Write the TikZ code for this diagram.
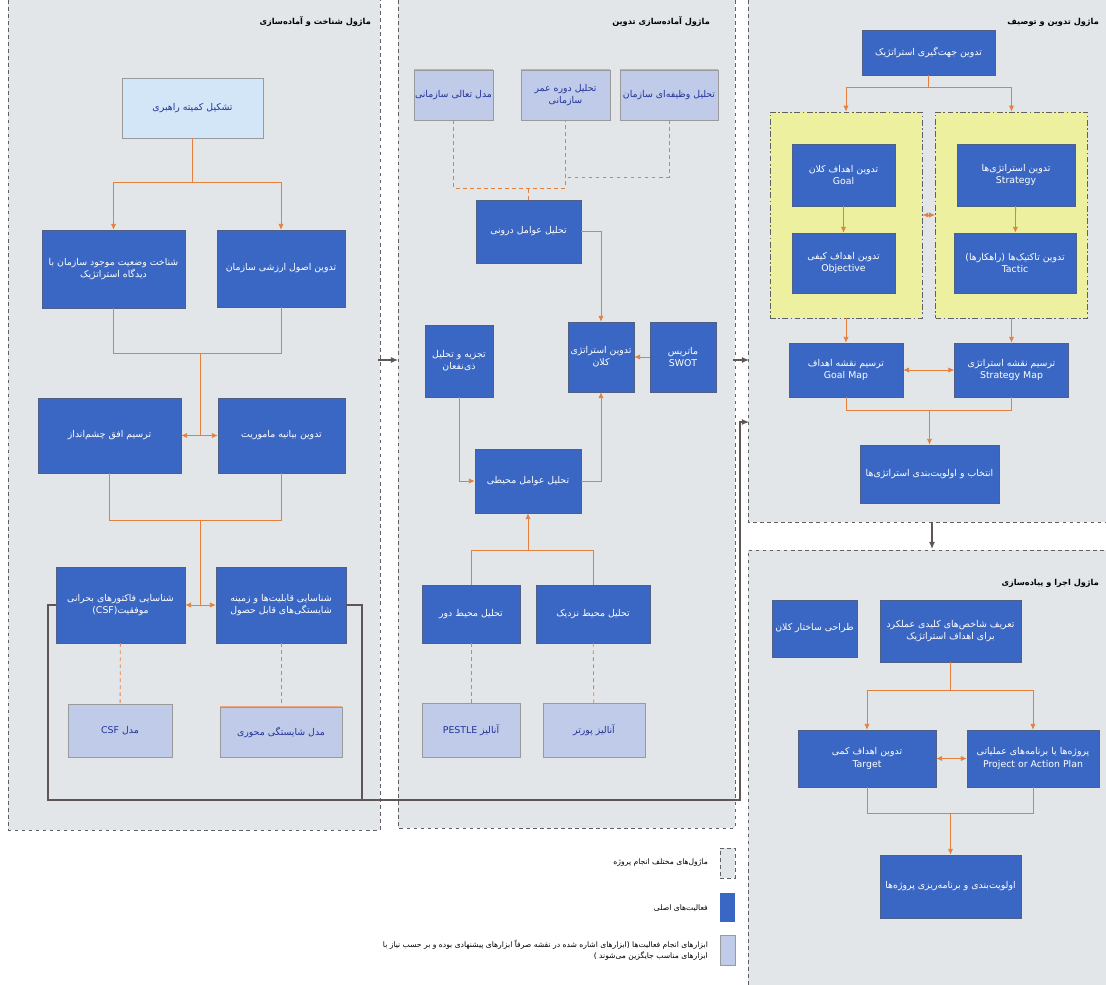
\documentclass[tikz,border=0pt]{standalone}
\usepackage{fontspec}
\setmainfont{DejaVu Sans}
\newfontfamily\farsi[Script=Arabic]{DejaVu Sans}
\TeXXeTstate=1
\newcommand{\fatext}[1]{{\farsi\beginR #1\endR}}
\usetikzlibrary{arrows.meta}
\definecolor{panelgray}{HTML}{E2E6E9}
\definecolor{rimgray}{HTML}{5F6166}
\definecolor{actblue}{HTML}{3A67C3}
\definecolor{actedge}{HTML}{4F5F86}
\definecolor{toolblue}{HTML}{BFCBE8}
\definecolor{tooledge}{HTML}{9A9A9A}
\definecolor{tooltext}{HTML}{22339A}
\definecolor{linkorange}{HTML}{E5803C}
\definecolor{flowgray}{HTML}{5E5656}
\definecolor{groupyellow}{HTML}{EDF09E}
\definecolor{headblue}{HTML}{D2E6F8}

\begin{document}
\begin{tikzpicture}[x=0.03cm, y=-0.03cm,
  every node/.style={font=\fontsize{8}{10.5}\selectfont},
  boxsize/.style 2 args={minimum width=#1*0.03cm, minimum height=#2*0.03cm},
  act/.style={draw=actedge, fill=actblue, text=white, align=center, inner sep=1pt},
  tool/.style={draw=tooledge, fill=toolblue, text=tooltext, align=center, inner sep=1pt},
  head/.style={draw=tooledge, fill=headblue, text=tooltext, align=center, inner sep=1pt},
  group/.style={draw=rimgray, fill=groupyellow, line width=0.8pt,
    dash pattern=on 5pt off 2pt on 1.5pt off 2pt},
  title/.style={anchor=east, font=\fontsize{7}{9}\selectfont\bfseries},
  keytext/.style={anchor=east, align=right, font=\fontsize{6.5}{9}\selectfont},
  rim/.style={draw=rimgray, dashed, line width=0.8pt},
  link/.style={draw=linkorange, line width=0.7pt},
  arr/.style={link, -{Latex[length=5pt,width=4.5pt]}},
  twoway/.style={link, {Latex[length=5pt,width=4.5pt]}-{Latex[length=5pt,width=4.5pt]}},
  toollink/.style={link, dashed},
  flow/.style={draw=flowgray, line width=0.9pt},
  flowarr/.style={flow, -{Latex[length=6pt,width=5pt]}},
  stripe/.style={draw=linkorange!70, line width=1.2pt}]

\useasboundingbox[fill=white] (0,0) rectangle (1106,985);

% modules
\fill[panelgray] (8,0) rectangle (380,830);
\draw[rim] (8,0) -- (8,830) -- (380,830) -- (380,0);
\fill[panelgray] (398,0) rectangle (735,828);
\draw[rim] (398,0) -- (398,828) -- (735,828) -- (735,0);
\fill[panelgray] (748,0) rectangle (1106,522);
\draw[rim] (748,0) -- (748,522) -- (1106,522);
\fill[panelgray] (748,550) rectangle (1106,985);
\draw[rim] (748,985) -- (748,550) -- (1106,550);

\node[title] (title1) at (375,22) {\fatext{ماژول شناخت و آماده‌سازی}};
\node[title] (title2) at (714,22) {\fatext{ماژول آماده‌سازی تدوین}};
\node[title] (title3) at (1103,22) {\fatext{ماژول تدوین و توصیف}};
\node[title] (title4) at (1103,583) {\fatext{ماژول اجرا و پیاده‌سازی}};

% module 1
\node[head, boxsize={141}{60}] (committee) at (192.5,108) {\fatext{تشکیل کمیته راهبری}};
\node[act, boxsize={143}{78}] (situation) at (113.5,269) {\fatext{شناخت وضعیت موجود سازمان با}\\\fatext{دیدگاه استراتژیک}};
\node[act, boxsize={128}{77}] (values) at (281,268.5) {\fatext{تدوین اصول ارزشی سازمان}};
\node[act, boxsize={143}{75}] (vision) at (109.5,435.5) {\fatext{ترسیم افق چشم‌انداز}};
\node[act, boxsize={127}{75}] (mission) at (281.5,435.5) {\fatext{تدوین بیانیه ماموریت}};
\node[act, boxsize={129}{76}] (csf) at (120.5,605) {\fatext{شناسایی فاکتورهای بحرانی}\\\fatext{موفقیت\beginL(CSF)\endL}};
\node[act, boxsize={130}{76}] (competence) at (281,605) {\fatext{شناسایی قابلیت‌ها و زمینه}\\\fatext{شایستگی‌های قابل حصول}};
\node[tool, boxsize={104}{53}] (csfmodel) at (120,730.5) {\fatext{مدل \beginL CSF\endL}};
\node[tool, boxsize={122}{50}] (compmodel) at (281,732) {\fatext{مدل شایستگی محوری}};

\coordinate (s1) at (192.5,182);
\coordinate (s2) at (200,353);
\coordinate (s3) at (200,435.5);
\coordinate (s4) at (200,520);
\coordinate (s5) at (200,605);
\draw[link] (committee) -- (s1);
\draw[arr] (s1) -| (situation);
\draw[arr] (s1) -| (values);
\draw[link] (situation) |- (s2);
\draw[link] (values) |- (s2);
\draw[link] (s2) -- (s3);
\draw[arr] (s3) -- (vision);
\draw[arr] (s3) -- (mission);
\draw[link] (vision) |- (s4);
\draw[link] (mission) |- (s4);
\draw[link] (s4) -- (s5);
\draw[arr] (s5) -- (csf);
\draw[arr] (s5) -- (competence);
\draw[toollink] (csf) -- (csfmodel);
\draw[toollink] (competence) -- (compmodel);

% module 2
\node[tool, boxsize={77}{50}] (excellence) at (453.5,95) {\fatext{مدل تعالی سازمانی}};
\node[tool, boxsize={89}{50}] (lifecycle) at (565.5,95) {\fatext{تحلیل دوره عمر}\\\fatext{سازمانی}};
\node[tool, boxsize={98}{50}] (functional) at (669,95) {\fatext{تحلیل وظیفه‌ای سازمان}};
\node[act, boxsize={105}{63}] (internal) at (528.5,231.5) {\fatext{تحلیل عوامل درونی}};
\node[act, boxsize={68}{72}] (stakeholders) at (459,361) {\fatext{تجزیه و تحلیل}\\\fatext{ذی‌نفعان}};
\node[act, boxsize={66}{70}] (macro) at (601,357) {\fatext{تدوین استراتژی}\\\fatext{کلان}};
\node[act, boxsize={66}{70}] (swot) at (683,357) {\fatext{ماتریس}\\SWOT};
\node[act, boxsize={106}{64}] (environment) at (528,481) {\fatext{تحلیل عوامل محیطی}};
\node[act, boxsize={98}{58}] (far) at (471,614) {\fatext{تحلیل محیط دور}};
\node[act, boxsize={114}{58}] (near) at (593,614) {\fatext{تحلیل محیط نزدیک}};
\node[tool, boxsize={98}{54}] (pestle) at (471,730) {\fatext{آنالیز \beginL PESTLE\endL}};
\node[tool, boxsize={102}{54}] (porter) at (594,730) {\fatext{آنالیز پورتر}};

\foreach \b in {excellence,lifecycle,functional,compmodel}
  \draw[stripe] (\b.north west) -- (\b.north east);

\coordinate (d1) at (565.5,188);
\coordinate (d2) at (565.5,177);
\coordinate (e1) at (528,550);
\draw[toollink] (excellence) |- (d1) -- (lifecycle);
\draw[toollink] (functional) |- (d2);
\draw[toollink] (internal) -- (internal |- d1);
\draw[arr] (internal) -| (macro);
\draw[arr] (swot) -- (macro);
\draw[arr] (stakeholders) |- (environment);
\draw[arr] (environment) -| (macro);
\draw[link] (far) |- (e1);
\draw[link] (near) |- (e1);
\draw[arr] (e1) -- (environment);
\draw[toollink] (far) -- (pestle);
\draw[toollink] (near) -- (porter);

% module 3
\node[act, boxsize={133}{45}] (direction) at (928.5,52.5) {\fatext{تدوین جهت‌گیری استراتژیک}};
\node[group, boxsize={152}{206}] (goalgroup) at (846,215) {};
\node[group, boxsize={152}{206}] (strategygroup) at (1011.5,215) {};
\node[act, boxsize={103}{62}] (goal) at (843.5,175) {\fatext{تدوین اهداف کلان}\\Goal};
\node[act, boxsize={103}{60}] (objective) at (843.5,263) {\fatext{تدوین اهداف کیفی}\\Objective};
\node[act, boxsize={118}{62}] (strategy) at (1016,175) {\fatext{تدوین استراتژی‌ها}\\Strategy};
\node[act, boxsize={122}{60}] (tactic) at (1015,263) {\fatext{تدوین تاکتیک‌ها (راهکارها)}\\Tactic};
\node[act, boxsize={114}{54}] (goalmap) at (846,370) {\fatext{ترسیم نقشه اهداف}\\Goal Map};
\node[act, boxsize={114}{54}] (strategymap) at (1011.5,370) {\fatext{ترسیم نقشه استراتژی}\\Strategy Map};
\node[act, boxsize={139}{58}] (select) at (929.5,474) {\fatext{انتخاب و اولویت‌بندی استراتژی‌ها}};

\coordinate (g1) at (928.5,87);
\coordinate (g2) at (929.5,410);
\draw[link] (direction) -- (g1);
\draw[arr] (g1) -| (goalgroup);
\draw[arr] (g1) -| (strategygroup);
\draw[arr] (goal) -- (objective);
\draw[arr] (strategy) -- (tactic);
\draw[twoway] (goalgroup) -- (strategygroup);
\draw[arr] (goalgroup) -- (goalmap);
\draw[arr] (strategygroup) -- (strategymap);
\draw[twoway] (goalmap) -- (strategymap);
\draw[link] (goalmap) |- (g2);
\draw[link] (strategymap) |- (g2);
\draw[arr] (g2) -- (select);

% module 4
\node[act, boxsize={85}{57}] (structure) at (814.5,628.5) {\fatext{طراحی ساختار کلان}};
\node[act, boxsize={141}{62}] (kpi) at (950.5,631) {\fatext{تعریف شاخص‌های کلیدی عملکرد}\\\fatext{برای اهداف استراتژیک}};
\node[act, boxsize={138}{57}] (target) at (867,758.5) {\fatext{تدوین اهداف کمی}\\Target};
\node[act, boxsize={132}{57}] (project) at (1033,758.5) {\fatext{پروژه‌ها یا برنامه‌های عملیاتی}\\Project or Action Plan};
\node[act, boxsize={141}{63}] (priority) at (950.5,886.5) {\fatext{اولویت‌بندی و برنامه‌ریزی پروژه‌ها}};

\coordinate (k1) at (950.5,690);
\coordinate (k2) at (950.5,813);
\draw[link] (kpi) -- (k1);
\draw[arr] (k1) -| (target);
\draw[arr] (k1) -| (project);
\draw[twoway] (target) -- (project);
\draw[link] (target) |- (k2);
\draw[link] (project) |- (k2);
\draw[arr] (k2) -- (priority);

% between modules
\coordinate (m1out) at (378,360);
\coordinate (m2in) at (398,360);
\coordinate (m2out) at (733,360);
\coordinate (m3in) at (749,360);
\coordinate (f1) at (48,800);
\coordinate (f2) at (362,800);
\coordinate (f3) at (740,800);
\coordinate (m3side) at (749,422);
\coordinate (m3out) at (932,522);
\coordinate (m4in) at (932,549);
\draw[flowarr] (m1out) -- (m2in);
\draw[flowarr] (m2out) -- (m3in);
\draw[flowarr] (csf) -| (f1) -- (f3) |- (m3side);
\draw[flow] (competence) -| (f2);
\draw[flowarr] (m3out) -- (m4in);

% key
\node[fill=panelgray, rim, minimum width=15*0.03cm, minimum height=30*0.03cm, inner sep=0pt] (keymodule) at (727.5,863) {};
\node[fill=actblue, minimum width=15*0.03cm, minimum height=29*0.03cm, inner sep=0pt] (keyact) at (727.5,907.5) {};
\node[fill=toolblue, draw=tooledge, minimum width=15*0.03cm, minimum height=30*0.03cm, inner sep=0pt] (keytool) at (727.5,950) {};
\node[keytext] (keymoduletext) at (712,863) {\fatext{ماژول‌های مختلف انجام پروژه}};
\node[keytext] (keyacttext) at (712,908) {\fatext{فعالیت‌های اصلی}};
\node[keytext] (keytooltext) at (712,950) {\fatext{ابزارهای انجام فعالیت‌ها (ابزارهای اشاره شده در نقشه صرفاً ابزارهای پیشنهادی بوده و بر حسب نیاز با}\\\fatext{ابزارهای مناسب جایگزین می‌شوند )}};

\end{tikzpicture}
\end{document}
